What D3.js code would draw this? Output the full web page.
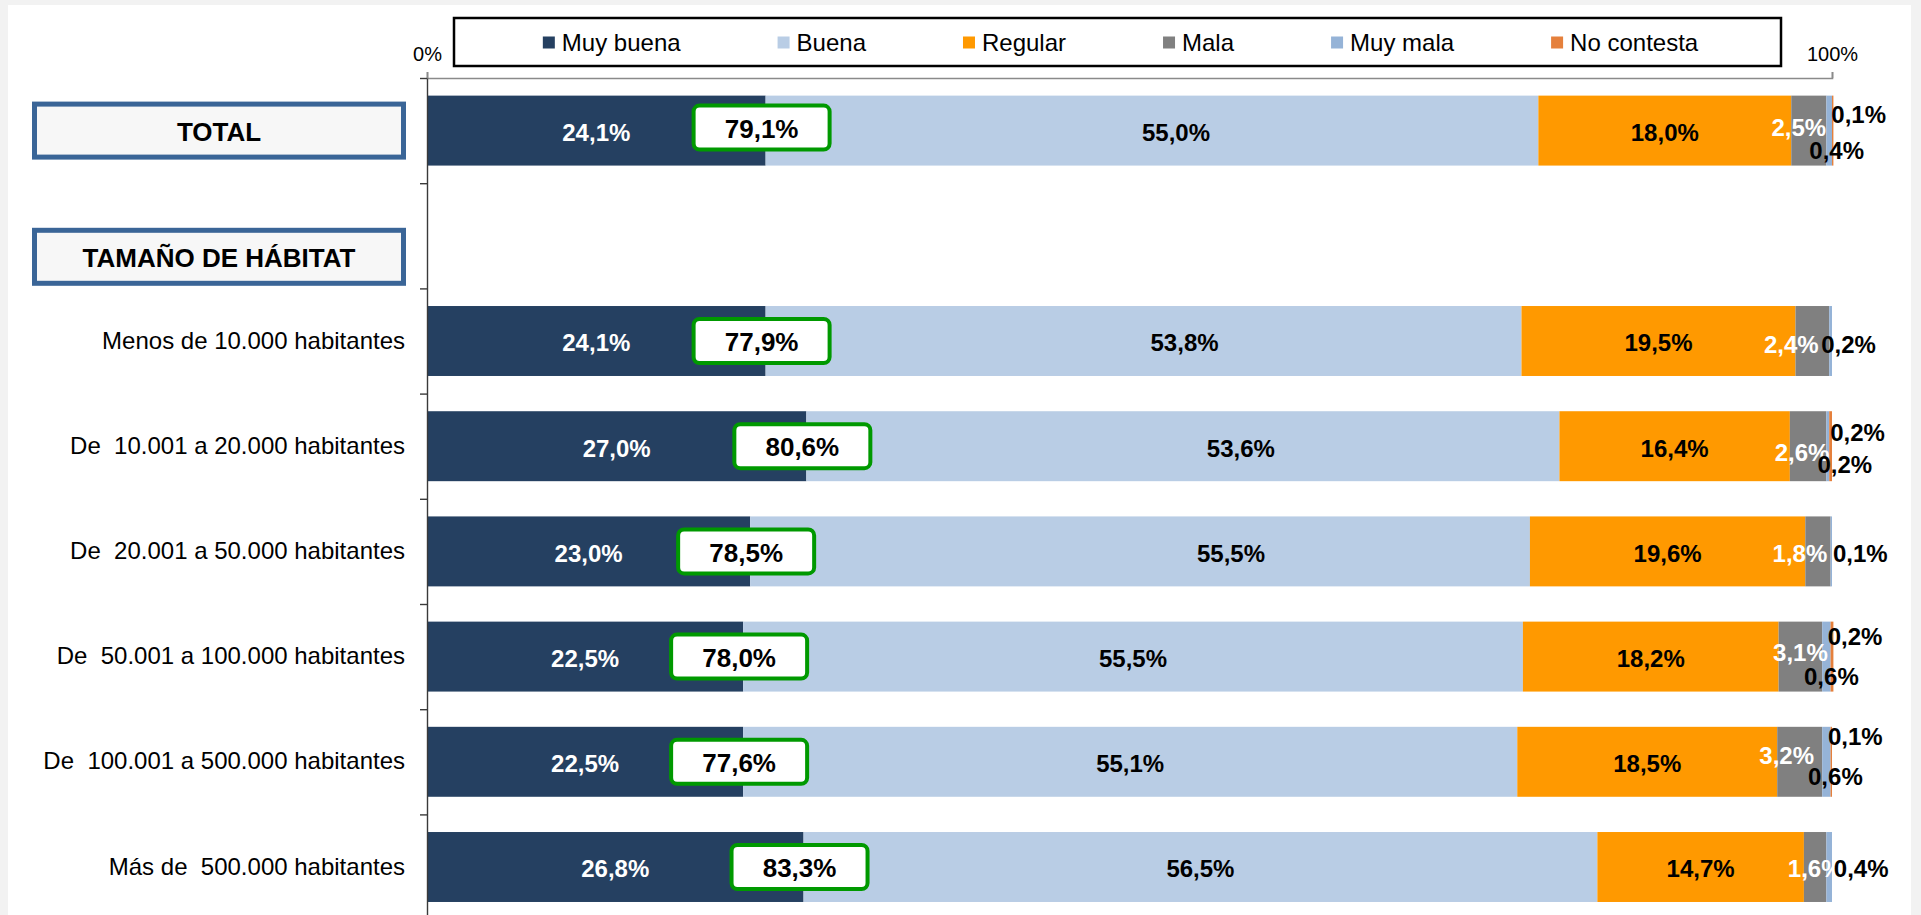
<!DOCTYPE html>
<html lang="es">
<head>
<meta charset="utf-8">
<title>Valoración por tamaño de hábitat</title>
<script src="https://cdn.jsdelivr.net/npm/d3@7"></script>
<style>
  html, body { margin: 0; padding: 0; background: #f2f2f2; }
  svg { display: block; }
  text { font-family: "Liberation Sans", Arial, Helvetica, sans-serif; }
</style>
</head>
<body>
<svg id="chart" width="1921" height="915"></svg>
<script>
// ---- data -------------------------------------------------------------
const categories = [
  "TOTAL",
  "TAMAÑO DE HÁBITAT",
  "Menos de 10.000 habitantes",
  "De  10.001 a 20.000 habitantes",
  "De  20.001 a 50.000 habitantes",
  "De  50.001 a 100.000 habitantes",
  "De  100.001 a 500.000 habitantes",
  "Más de  500.000 habitantes"
];
// rows drawn inside a framed title box instead of as axis labels
const boxedRows = [0, 1];

const seriesNames = ["Muy buena", "Buena", "Regular", "Mala", "Muy mala", "No contesta"];

const muyBuena   = [24.1, null, 24.1, 27.0, 23.0, 22.5, 22.5, 26.8];
const buena      = [55.0, null, 53.8, 53.6, 55.5, 55.5, 55.1, 56.5];
const regular    = [18.0, null, 19.5, 16.4, 19.6, 18.2, 18.5, 14.7];
const mala       = [ 2.5, null,  2.4,  2.6,  1.8,  3.1,  3.2,  1.6];
const muyMala    = [ 0.4, null,  0.2,  0.2,  0.1,  0.6,  0.6,  0.4];
const noContesta = [ 0.1, null,  0.0,  0.2,  0.0,  0.2,  0.1,  0.0];

const xTickValues = [0, 100];

// ---- styling / layout -------------------------------------------------
const colors = ["#254061", "#b9cde5", "#ff9900", "#808080", "#95b3d7", "#e5803c"];
const labelColors = ["#ffffff", "#000000", "#000000", "#ffffff", "#000000", "#000000"];

// hand-placed data-label offsets (px) per row, as laid out in the workbook
const buenaShift      = [24, 0, 41, 58, 91, 0, 0, 0];
const malaShift       = [[-10, -5], null, [-21, 2], [-6, 4], [-18, 0], [0, -6], [-13, -8], [0, 0]];
const muyMalaShift    = [[7.5, 18], null, [18, 2], [17, 16], [29, 0], [5, 18], [9, 13], [32, 0]];
const noContestaShift = [[26, -18], null, null, [27, -16], null, [23, -22], [24, -27], null];

const W = 1921, H = 915;
const plot = { left: 427, right: 1832, top: 78, step: 105.2 };

const svg = d3.select("#chart");

// page frame
svg.append("rect").attr("width", W).attr("height", H).attr("fill", "#f2f2f2");
svg.append("rect").attr("x", 8).attr("y", 5).attr("width", 1903).attr("height", H - 5).attr("fill", "#ffffff");

// ---- scales -----------------------------------------------------------
const x = d3.scaleLinear().domain([0, 100]).range([plot.left, plot.right]);
const yBottom = plot.top + plot.step * categories.length;
const y = d3.scaleBand()
  .domain(d3.range(categories.length))
  .range([plot.top, yBottom])
  .paddingInner(0.335)
  .paddingOuter(0.1675);
const yEdge = d3.scaleLinear().domain([0, categories.length]).range([plot.top, yBottom]);

const locale = d3.formatLocale({ decimal: ",", thousands: ".", grouping: [3], currency: ["", " €"] });
const f1 = locale.format(".1f");
const pct = v => f1(v) + "%";

// ---- stacked bars -----------------------------------------------------
const columns = [muyBuena, buena, regular, mala, muyMala, noContesta];
const table = categories
  .map((c, i) => {
    const row = { idx: i };
    seriesNames.forEach((s, k) => { row[s] = columns[k][i]; });
    return row;
  })
  .filter(r => r["Muy buena"] != null);

const stacked = d3.stack().keys(seriesNames)(table);

const barsG = svg.append("g").attr("class", "bars");
stacked.forEach((layer, k) => {
  barsG.append("g")
    .attr("fill", colors[k])
    .selectAll("rect")
    .data(layer)
    .join("rect")
      .attr("x", d => x(d[0]))
      .attr("y", d => y(d.data.idx))
      .attr("width", d => Math.max(0, x(d[1]) - x(d[0])))
      .attr("height", y.bandwidth());
});

// ---- axes -------------------------------------------------------------
// top percentage axis
const xAxis = svg.append("g")
  .attr("transform", `translate(0,${plot.top})`)
  .call(d3.axisTop(x).tickValues(xTickValues).tickSize(6).tickSizeOuter(6).tickPadding(11)
        .tickFormat(d => d + "%"));
xAxis.select(".domain").attr("stroke", "#8a8a8a").attr("stroke-width", 1.6);
xAxis.selectAll(".tick line").attr("stroke", "#8a8a8a").attr("stroke-width", 1.6);
xAxis.selectAll(".tick text").attr("font-size", 20).attr("fill", "#000")
  .style("font-family", "'Liberation Sans', Arial, sans-serif");

// category axis: line with ticks between groups
const yAxis = svg.append("g")
  .attr("transform", `translate(${plot.left},0)`)
  .call(d3.axisLeft(yEdge).tickValues(d3.range(categories.length + 1)).tickSize(7).tickSizeOuter(0).tickFormat(""));
yAxis.select(".domain").attr("stroke", "#3a3a3a").attr("stroke-width", 1.4);
yAxis.selectAll(".tick line").attr("stroke", "#3a3a3a").attr("stroke-width", 1.4);

// category labels
const yLabels = svg.append("g")
  .attr("transform", `translate(${plot.left},0)`)
  .call(d3.axisLeft(y).tickSize(0).tickPadding(22)
        .tickFormat(i => boxedRows.includes(i) ? "" : categories[i]));
yLabels.select(".domain").remove();
yLabels.selectAll(".tick text")
  .attr("font-size", 24)
  .attr("fill", "#000")
  .style("white-space", "pre")
  .style("font-family", "'Liberation Sans', Arial, sans-serif");

// ---- framed titles ----------------------------------------------------
const titleBoxOffset = [0, 21];
boxedRows.forEach((i, n) => {
  const cy = y(i) + y.bandwidth() / 2 + titleBoxOffset[n];
  svg.append("rect")
    .attr("x", 34.5).attr("y", cy - 26.5)
    .attr("width", 369).attr("height", 53)
    .attr("fill", "#f7f7f7")
    .attr("stroke", "#3a6597").attr("stroke-width", 5);
  svg.append("text")
    .attr("x", 219).attr("y", cy + 1.5)
    .attr("dy", "0.35em")
    .attr("text-anchor", "middle")
    .attr("font-size", 26).attr("font-weight", "bold")
    .attr("fill", "#000")
    .text(categories[i]);
});

// ---- data labels ------------------------------------------------------
const labelsG = svg.append("g").attr("class", "labels")
  .attr("font-weight", "bold").attr("font-size", 24).attr("text-anchor", "middle");

function shiftFor(k, idx) {
  if (k === 1) return [buenaShift[idx], 0];
  if (k === 3) return malaShift[idx] || [0, 0];
  if (k === 4) return muyMalaShift[idx] || [0, 0];
  if (k === 5) return noContestaShift[idx] || [0, 0];
  return [0, 0];
}

stacked.forEach((layer, k) => {
  labelsG.selectAll(null)
    .data(layer.filter(d => d.data[seriesNames[k]] > 0))
    .join("text")
      .attr("x", d => (x(d[0]) + x(d[1])) / 2 + shiftFor(k, d.data.idx)[0])
      .attr("y", d => y(d.data.idx) + y.bandwidth() / 2 + 2 + shiftFor(k, d.data.idx)[1])
      .attr("dy", "0.35em")
      .attr("fill", labelColors[k])
      .text(d => pct(d.data[seriesNames[k]]));
});

// ---- "Muy buena + Buena" callouts -------------------------------------
const calloutG = svg.append("g").attr("class", "callouts");
table.forEach(r => {
  const total = r["Muy buena"] + r["Buena"];
  const cx = x(r["Muy buena"]) - 4;
  const cy = y(r.idx) + y.bandwidth() / 2 - (r.idx === 0 ? 3 : 0);
  calloutG.append("rect")
    .attr("x", cx - 68).attr("y", cy - 22)
    .attr("width", 136).attr("height", 44)
    .attr("rx", 6).attr("ry", 6)
    .attr("fill", "#ffffff")
    .attr("stroke", "#009900").attr("stroke-width", 4);
  calloutG.append("text")
    .attr("x", cx).attr("y", cy + 1)
    .attr("dy", "0.35em")
    .attr("text-anchor", "middle")
    .attr("font-size", 26).attr("font-weight", "bold")
    .attr("fill", "#000")
    .text(pct(total));
});

// ---- legend -----------------------------------------------------------
const legendBox = { x: 454, y: 18, w: 1327, h: 48 };
svg.append("rect")
  .attr("x", legendBox.x).attr("y", legendBox.y)
  .attr("width", legendBox.w).attr("height", legendBox.h)
  .attr("fill", "#ffffff")
  .attr("stroke", "#000").attr("stroke-width", 2.5);

const legendG = svg.append("g").attr("class", "legend");
const items = legendG.selectAll("g")
  .data(seriesNames)
  .join("g");
items.append("rect")
  .attr("width", 12).attr("height", 12)
  .attr("y", -6)
  .attr("fill", (d, k) => colors[k]);
items.append("text")
  .attr("x", 19)
  .attr("dy", "0.35em")
  .attr("font-size", 24)
  .attr("fill", "#000")
  .text(d => d);

const gap = 97;
let cursor = 0;
const offsets = [];
items.each(function () {
  offsets.push(cursor);
  const tw = d3.select(this).select("text").node().getComputedTextLength();
  cursor += 19 + tw + gap;
});
const totalW = cursor - gap;
const startX = legendBox.x + legendBox.w / 2 + 3 - totalW / 2;
items.attr("transform", (d, k) => `translate(${startX + offsets[k]},${legendBox.y + legendBox.h / 2 + 0.5})`);
</script>
</body>
</html>
